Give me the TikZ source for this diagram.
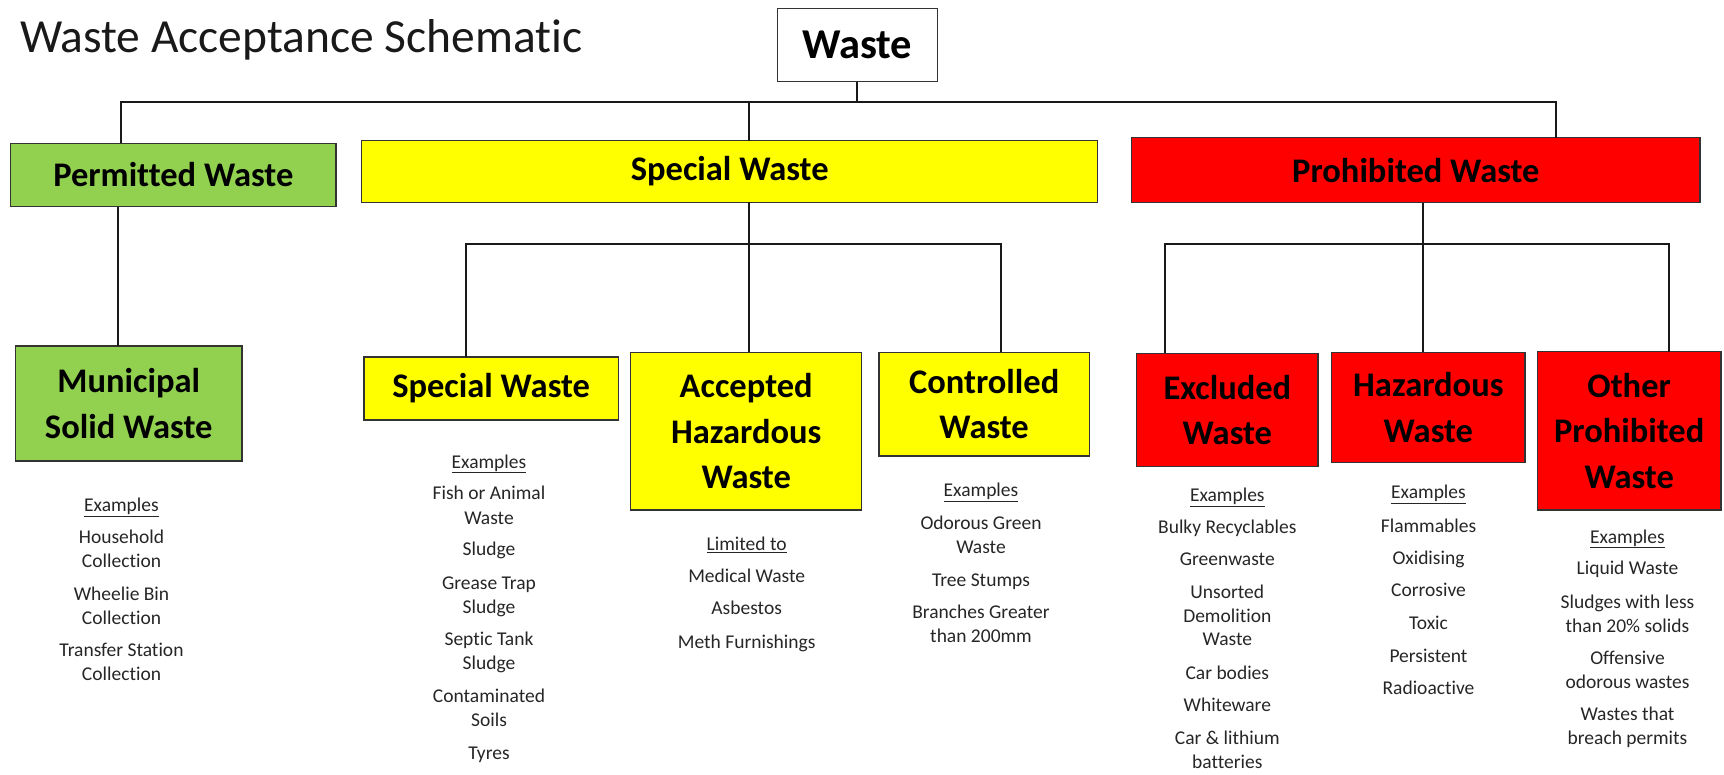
\documentclass[tikz,border=0pt]{standalone}
\usepackage{fontspec}
\setmainfont{Carlito}[Ligatures=NoCommon]
\begin{document}
\begin{tikzpicture}[x=1pt,y=-1pt,
  box/.style={draw=black!80, line width=1.4pt, inner sep=0pt, outer sep=0pt, anchor=north west, align=center, font=\bfseries\fontsize{34.5}{45.5}\selectfont},
  conn/.style={draw=black!90, line width=2pt},
  item/.style={inner sep=0pt, font=\fontsize{19.5}{24}\selectfont, text height=0.7em, text depth=0.1em, text=black!85},
  greenbox/.style={box, fill=green1},
  yellowbox/.style={box, fill=yellow1},
  redbox/.style={box, fill=red1}]
\definecolor{green1}{HTML}{92D050}
\definecolor{yellow1}{HTML}{FFFF00}
\definecolor{red1}{HTML}{FF0000}
\useasboundingbox (0,0) rectangle (1724,774);

% title
\node[anchor=base west, inner sep=0pt, font=\fontsize{47.5}{55}\selectfont, text=black!90] (title) at (19.8,52) {Waste Acceptance Schematic};

% boxes
\node[box, fill=white, minimum width=160pt, minimum height=73.4pt, font=\bfseries\fontsize{42.5}{50}\selectfont] (waste) at (777.3,8.3) {Waste};
\node[greenbox, minimum width=325.3pt, minimum height=63.4pt] (perm) at (10.7,143.3) {Permitted Waste};
\node[yellowbox, minimum width=736pt, minimum height=61.6pt] (spec) at (361.7,140.7) {Special Waste};
\node[redbox, minimum width=568.3pt, minimum height=65pt] (proh) at (1131.7,137.7) {Prohibited Waste};

\node[greenbox, minimum width=226.6pt, minimum height=115pt] (mun) at (15.4,346) {Municipal\\Solid Waste};
\node[yellowbox, minimum width=254.3pt, minimum height=63pt] (specsub) at (364,357) {Special Waste};
\node[yellowbox, minimum width=231pt, minimum height=157.7pt] (acc) at (630.7,352.3) {Accepted\\Hazardous\\Waste};
\node[yellowbox, minimum width=210.3pt, minimum height=103.7pt] (ctrl) at (879,352.3) {Controlled\\Waste};
\node[redbox, minimum width=181.3pt, minimum height=113.4pt] (excl) at (1136.7,353.3) {Excluded\\Waste};
\node[redbox, minimum width=193.3pt, minimum height=110.4pt] (haz) at (1331.7,352.3) {Hazardous\\Waste};
\node[redbox, minimum width=183.7pt, minimum height=158.3pt] (other) at (1537.3,351.7) {Other\\Prohibited\\Waste};

% connectors: top level
\coordinate (busL) at (120.7,101.7);
\coordinate (busR) at (1556,101.7);
\coordinate (busS) at (749.3,101.7);
\draw[conn] (busL |- perm.north) -- (busL) -- (busR) -- (busR |- proh.north);
\draw[conn] (waste.south) -- (waste.south |- busL);
\draw[conn] (busS) -- (busS |- spec.north);

% permitted -> municipal
\coordinate (pm) at (117.7,0);
\draw[conn] (pm |- perm.south) -- (pm |- mun.north);

% special sub-tree
\coordinate (sL) at (466,244);
\coordinate (sM) at (749.3,244);
\coordinate (sR) at (1000.7,244);
\draw[conn] (sM |- spec.south) -- (sM |- acc.north);
\draw[conn] (sL |- specsub.north) -- (sL) -- (sR) -- (sR |- ctrl.north);

% prohibited sub-tree
\coordinate (pL) at (1165,244);
\coordinate (pM) at (1423.3,244);
\coordinate (pR) at (1669,244);
\draw[conn] (pM |- proh.south) -- (pM |- haz.north);
\draw[conn] (pL |- excl.north) -- (pL) -- (pR) -- (pR |- other.north);

% example lists
\foreach \y/\t [count=\i] in {508.3/\underline{Examples}, 540/Household, 564.5/Collection, 597/Wheelie Bin, 621/Collection, 653.3/Transfer Station, 677.3/Collection}
  \node[item] (mun-\i) at (121.5,\y) {\t};
\foreach \y/\t [count=\i] in {465/\underline{Examples}, 496.7/Fish or Animal, 521/Waste, 552.7/Sludge, 586.7/Grease Trap, 610.7/Sludge, 642.7/Septic Tank, 666.7/Sludge, 699.3/Contaminated, 723.3/Soils, 756/Tyres}
  \node[item] (sw-\i) at (489,\y) {\t};
\foreach \y/\t [count=\i] in {547.7/\underline{Limited to}, 579.3/Medical Waste, 611.7/Asbestos, 645/Meth Furnishings}
  \node[item] (acc-\i) at (746.7,\y) {\t};
\foreach \y/\t [count=\i] in {493.3/\underline{Examples}, 526.7/Odorous Green, 550/Waste, 583.3/Tree Stumps, 615/Branches Greater, 639.3/than 200mm}
  \node[item] (ctrl-\i) at (981,\y) {\t};
\foreach \y/\t [count=\i] in {498.3/\underline{Examples}, 530/Bulky Recyclables, 562.3/Greenwaste, 595.7/Unsorted, 619/Demolition, 642.7/Waste, 676/Car bodies, 708.3/Whiteware, 741/Car \& lithium, 765/batteries}
  \node[item] (excl-\i) at (1227.3,\y) {\t};
\foreach \y/\t [count=\i] in {495.7/\underline{Examples}, 529/Flammables, 561/Oxidising, 593.3/Corrosive, 626.7/Toxic, 659/Persistent, 691/Radioactive}
  \node[item] (haz-\i) at (1428.5,\y) {\t};
\foreach \y/\t [count=\i] in {540/\underline{Examples}, 571.7/Liquid Waste, 605/Sludges with less, 629/than 20\% solids, 661/Offensive, 685.7/odorous wastes, 717.7/Wastes that, 741.7/breach permits}
  \node[item] (oth-\i) at (1627.5,\y) {\t};
\end{tikzpicture}
\end{document}
